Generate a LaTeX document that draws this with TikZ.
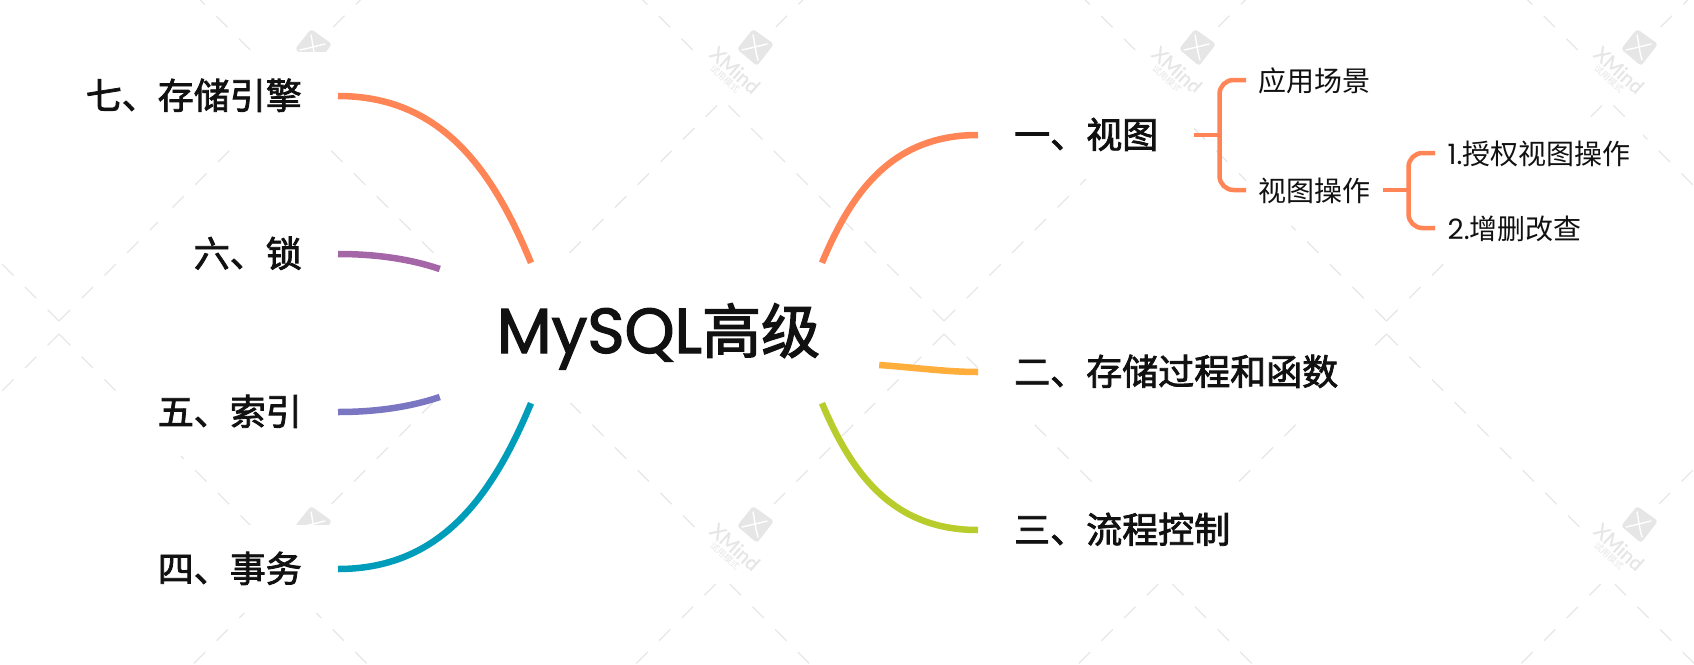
\documentclass[tikz,border=0pt]{standalone}
\usepackage{fontspec}
\usetikzlibrary{calc}
\newfontfamily\cjkreg{Noto Sans CJK SC}
\newfontfamily\cjkmed[FakeBold=2.2]{Noto Sans CJK SC}
\newfontfamily\latmed[FakeBold=2]{Poppins}
\newfontfamily\latreg{Poppins}
\newfontfamily\wmlat[FakeBold=1]{Lato}
\definecolor{ink}{HTML}{111111}
\definecolor{wmgray}{HTML}{E6E6E6}
\definecolor{corange}{HTML}{FF8456}
\definecolor{cpurple}{HTML}{A566A8}
\definecolor{cindigo}{HTML}{7B76C2}
\definecolor{cteal}{HTML}{009DBB}
\definecolor{camber}{HTML}{FFAE3B}
\definecolor{clime}{HTML}{B8CC2B}
\tikzset{
  x=1pt,y=-1pt,
  wmdash/.style={draw=wmgray,line width=1.2pt,dash pattern=on 16pt off 16.1pt},
  root/.style={fill=white,inner sep=0pt,minimum width=439pt,minimum height=140pt,text=ink,
    text height=50pt,text depth=10pt,font=\fontsize{59}{59}\selectfont\cjkmed},
  topicL/.style={fill=white,anchor=east,inner xsep=36pt,inner ysep=0pt,minimum height=88pt,text=ink,
    text height=29pt,text depth=3pt,font=\fontsize{36}{36}\selectfont\cjkmed},
  topicR/.style={topicL,anchor=west,inner xsep=36pt},
  subnode/.style={fill=white,anchor=west,inner xsep=12.5pt,inner ysep=0pt,minimum height=72pt,text=ink,
    text height=23.5pt,text depth=1.5pt,font=\fontsize{28}{28}\selectfont\cjkreg},
  branch/.style={line width=6.5pt},
  bracket/.style={draw=corange,line width=4.5pt},
  wmtext/.style={text=wmgray,inner sep=0pt,rotate=-42},
}
\newcommand\branchto[4]{\draw[branch,#1] (#2) .. controls #3 .. (#4);}
\newcommand\wmmark[2]{%
  \begin{scope}[shift={(#1,#2)}]
    \fill[wmgray,rounded corners=3pt] (-2,-18) -- (19,-3) -- (2,19) -- (-18,2) -- cycle;
    \draw[white,line width=1.4pt,line cap=round] (-2,-12) .. controls (0,-3) and (0,3) .. (3,13);
    \draw[white,line width=1.4pt,line cap=round] (-13,3) .. controls (-4,1) and (4,-1) .. (12,-3);
  \end{scope}}
\begin{document}
\begin{tikzpicture}
\useasboundingbox (0,0) rectangle (1694,664);
\clip (0,0) rectangle (1694,664);
% watermark lattice
\foreach \xc in {59,501.5,944,1386.5,1829}{
  \draw[wmdash] (\xc,321) -- ++(-221.5,-221.5);
  \draw[wmdash] (\xc,321) -- ++(221.5,-221.5);
  \draw[wmdash] (\xc,334) -- ++(193,193);
  \draw[wmdash] (\xc,334) -- ++(-170,170);
}
\foreach \xc in {280.25,722.75,1165.25,1607.75}{
  \draw[wmdash] (\xc-7,584) -- ++(-90,90);
  \draw[wmdash] (\xc+7,584) -- ++(90,90);
  \draw[wmdash] (\xc-30,50) -- ++(-80,-80);
  \draw[wmdash] (\xc+53,27) -- ++(80,-80);
}
% watermark logos
\wmmark{313}{47}
\wmmark{313}{524}
\foreach \lx/\ly/\m in {755/47/a,1197/47/b,1639/47/c,755/524/d,1639/524/e}{
  \wmmark{\lx}{\ly}
  \begin{scope}[shift={(\lx,\ly)}]
    \node[wmtext,font=\fontsize{20}{20}\selectfont\wmlat] (wmname\m) at (-20,23) {XMind};
    \node[wmtext,font=\fontsize{9}{9}\selectfont\cjkreg] (wmnote\m) at (-30,32) {试用模式};
  \end{scope}
}
% nodes
\node[root] (root) at (658.5,333) {{\fontsize{63.5}{63.5}\selectfont\latmed MySQL}高级};
\node[topicL] (n7) at (338,96) {七、存储引擎};
\node[topicL] (n6) at (338,254) {六、锁};
\node[topicL] (n5) at (338,412) {五、索引};
\node[topicL] (n4) at (338,569) {四、事务};
\node[topicR] (n1) at (978,135) {一、视图};
\node[topicR] (n2) at (978,372) {二、存储过程和函数};
\node[topicR] (n3) at (978,530) {三、流程控制};
\node[subnode] (s1) at (1246,80) {应用场景};
\node[subnode] (s2) at (1246,190) {视图操作};
\node[subnode] (t1) at (1435,153) {{\latreg 1.}授权视图操作};
\node[subnode] (t2) at (1435,228) {{\latreg 2.}增删改查};
% attachment points on the central node
\coordinate (rNL) at ($(root.north)+(-127.5,0)$);
\coordinate (rNR) at ($(root.north)+(163.5,0)$);
\coordinate (rSL) at ($(root.south)+(-127.5,0)$);
\coordinate (rSR) at ($(root.south)+(163.5,0)$);
\coordinate (rWU) at ($(root.west)+(1,-64)$);
\coordinate (rWD) at ($(root.west)+(1,64)$);
\coordinate (rE) at ($(root.east)+(1,32)$);
% branches
\branchto{corange}{n7.east}{(440,96) and (492,168)}{rNL}
\branchto{cpurple}{n6.east}{(376,254) and (410,259)}{rWU}
\branchto{cindigo}{n5.east}{(376,412) and (410,407)}{rWD}
\branchto{cteal}{n4.east}{(440,569) and (492,497)}{rSL}
\branchto{corange}{n1.west}{(895,135) and (853,188)}{rNR}
\branchto{camber}{n2.west}{(946,372) and (913,367.3)}{rE}
\branchto{clime}{n3.west}{(895,530) and (853,477)}{rSR}
% brackets
\draw[bracket] (n1.east) -- ++(24.5,0);
\draw[bracket,rounded corners=14pt] (s1.west) -- ++(-26.5,0) |- (s2.west);
\draw[bracket] (s2.east) -- ++(26.5,0);
\draw[bracket,rounded corners=14pt] (t1.west) -- ++(-26.5,0) |- (t2.west);
\end{tikzpicture}
\end{document}
